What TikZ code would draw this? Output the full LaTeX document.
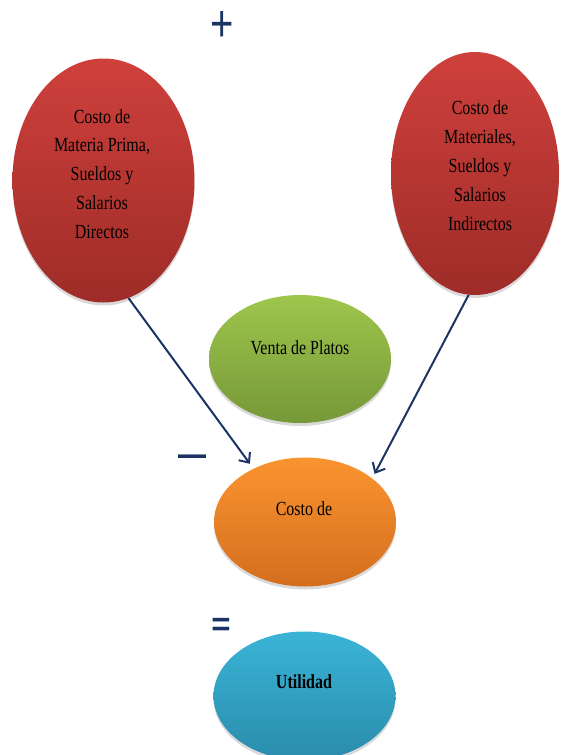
\documentclass[tikz,border=0pt]{standalone}
\usepackage{fontspec}
\setmainfont{Liberation Serif}[FakeStretch=0.8]
\newfontfamily\signfont{Liberation Sans}
\usetikzlibrary{shapes.geometric,arrows.meta,shadows}

\definecolor{navy}{RGB}{28,52,100}
\definecolor{redtop}{RGB}{207,64,60}
\definecolor{redbot}{RGB}{158,44,40}
\definecolor{greentop}{RGB}{158,198,76}
\definecolor{greenbot}{RGB}{118,152,56}
\definecolor{orangetop}{RGB}{250,148,48}
\definecolor{orangebot}{RGB}{212,110,30}
\definecolor{bluetop}{RGB}{58,180,214}
\definecolor{bluebot}{RGB}{42,140,172}

\tikzset{
  bubble/.style={ellipse, inner sep=0pt, draw=none, shading=axis,
    drop shadow={shadow xshift=0pt, shadow yshift=-3pt, opacity=0.25, fill=black!60}},
  redbubble/.style={bubble, top color=redtop, bottom color=redbot,
    minimum width=182pt, minimum height=244pt},
  smallbubble/.style={bubble, minimum width=182pt, minimum height=129pt},
  % base anchor of a multi-line label sits on its last line
  label text/.style={font=\fontsize{20}{28.8}\selectfont, align=center, inner sep=0pt, anchor=base},
  sign/.style={text=navy, inner sep=0pt},
  flow/.style={draw=navy, line width=2pt, -{Straight Barb[length=8pt,width=14pt,line width=2pt]}}
}

\begin{document}
\begin{tikzpicture}[x=1pt, y=-1pt]
\useasboundingbox (0,0) rectangle (564,755);

% cost bubbles
\node[redbubble] (direct) at (103.5,180.5) {};
\node[redbubble, minimum width=168pt, minimum height=243pt] (indirect) at (475,173.5) {};
\node[label text] (directtext) at (102,238.3) {Costo de\\Materia Prima,\\Sueldos y\\Salarios\\Directos};
\node[label text] (indirecttext) at (480,230) {Costo de\\Materiales,\\Sueldos y\\Salarios\\Indirectos};

% sales, cost and result bubbles
\node[smallbubble, top color=greentop, bottom color=greenbot, minimum height=128pt] (sales) at (300,359) {};
\node[smallbubble, top color=orangetop, bottom color=orangebot] (cost) at (305,522) {};
\node[smallbubble, top color=bluetop, bottom color=bluebot] (profit) at (304.5,696) {};

\node[label text] (salestext) at (300,354) {Venta de Platos};
\node[label text] (costtext) at (304,515) {Costo de};
\node[label text, font=\fontsize{20}{24}\selectfont\bfseries] (profittext) at (304,688) {Utilidad};

% operators
\node[sign, font=\signfont\fontsize{40}{40}\selectfont] (plus) at (222,26.5) {\scalebox{1}[1.3]{+}};
\node[sign, font=\signfont\bfseries\fontsize{28}{28}\selectfont] (minus) at (192.5,461) {\scalebox{1}[1.3]{—}};
\node[sign, font=\signfont\bfseries\fontsize{33}{33}\selectfont] (equals) at (221,627) {=};

% flows into the cost bubble
\draw[flow, shorten >=6pt] (direct.-78) -- (cost.134);
\draw[flow, shorten >=5pt] (indirect.-93) -- (cost.33);
\end{tikzpicture}
\end{document}
